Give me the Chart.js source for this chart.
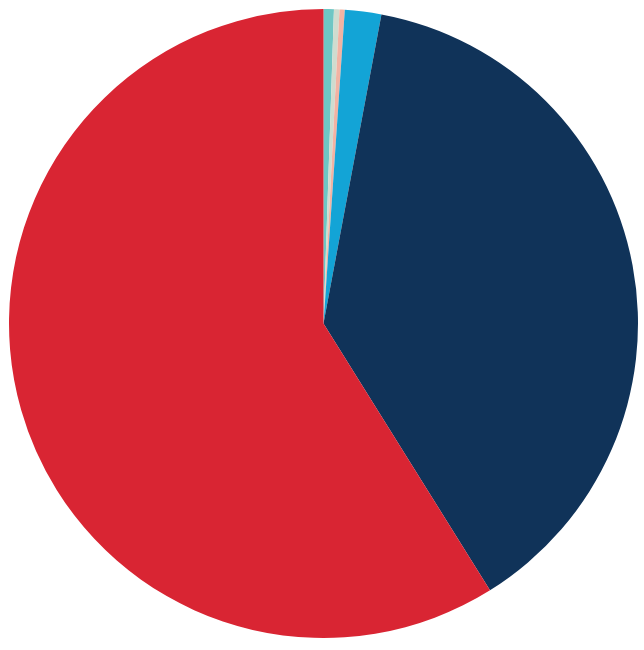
<!DOCTYPE html>
<html>
<head>
<meta charset="utf-8">
<script src="https://cdn.jsdelivr.net/npm/chart.js@4"></script>
<style>
html,body{margin:0;padding:0;background:#fff;}
#wrap{width:644px;height:650px;}
</style>
</head>
<body>
<div id="wrap"><canvas id="c" width="644" height="650"></canvas></div>
<script>
const categories = ["A", "B", "C", "D", "E", "F"];
const values = [0.53, 0.28, 0.27, 1.87, 38.17, 58.88];
const colors = ["#6EC6C4", "#CFDCCF", "#F2B3A3", "#13A4D6", "#103359", "#D92533"];

new Chart(document.getElementById("c"), {
  type: "pie",
  data: {
    labels: categories,
    datasets: [{
      data: values,
      backgroundColor: colors,
      borderWidth: 0
    }]
  },
  options: {
    responsive: false,
    animation: false,
    layout: { padding: { left: 9, right: 6, top: 9, bottom: 12 } },
    plugins: { legend: { display: false }, tooltip: { enabled: false } }
  }
});
</script>
</body>
</html>
